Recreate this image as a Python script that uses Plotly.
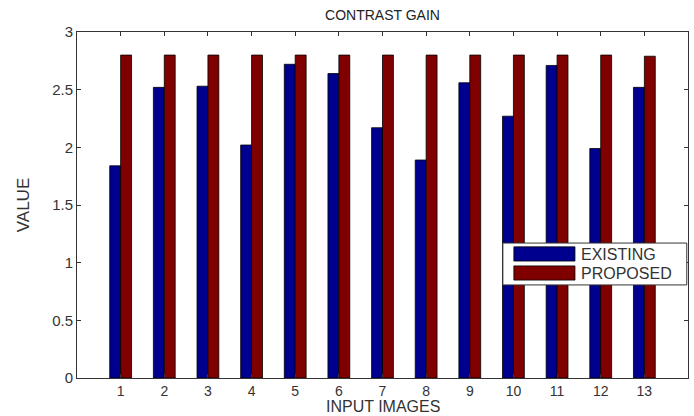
import plotly.graph_objects as go

images = [1, 2, 3, 4, 5, 6, 7, 8, 9, 10, 11, 12, 13]
existing = [1.84, 2.52, 2.53, 2.02, 2.72, 2.64, 2.17, 1.89, 2.56, 2.27, 2.71, 1.99, 2.52]
proposed = [2.80, 2.80, 2.80, 2.80, 2.80, 2.80, 2.80, 2.80, 2.80, 2.80, 2.80, 2.80, 2.79]
series_names = ["EXISTING", "PROPOSED"]
y_ticks = [0, 0.5, 1, 1.5, 2, 2.5, 3]
y_tick_labels = ["0", "0.5", "1", "1.5", "2", "2.5", "3"]
x_title = "INPUT IMAGES"
y_title = "VALUE"
chart_title = "CONTRAST GAIN"

BLUE = "#00008F"
RED = "#800000"
FONT = "Liberation Sans, Arial, sans-serif"
TXT = "#333333"

fig = go.Figure()
fig.add_trace(go.Bar(x=images, y=existing, name=series_names[0],
                     marker=dict(color=BLUE, line=dict(color="#000000", width=0.8))))
fig.add_trace(go.Bar(x=images, y=proposed, name=series_names[1],
                     marker=dict(color=RED, line=dict(color="#000000", width=0.8))))

fig.update_layout(
    width=694, height=416,
    margin=dict(l=77, r=6, t=32, b=38, autoexpand=False),
    paper_bgcolor="white", plot_bgcolor="white",
    barmode="group", bargap=0.5, bargroupgap=0,
    showlegend=False,
    font=dict(family=FONT, size=15, color=TXT),
    title=dict(text=chart_title, x=0.5, xref="paper", xanchor="center",
               y=1 - 15 / 416, yref="container", yanchor="middle",
               font=dict(family=FONT, size=14, color="#222222")),
)

fig.update_xaxes(
    range=[0, 14], tickmode="array", tickvals=images, ticktext=[str(i) for i in images],
    ticks="inside", ticklen=4, tickcolor="#333333",
    showline=True, linecolor="#333333", linewidth=1, mirror="ticks",
    showgrid=False, zeroline=False, automargin=False,
    tickfont=dict(family=FONT, size=14, color=TXT),
)
fig.update_yaxes(
    range=[0, 3], tickmode="array", tickvals=y_ticks, ticktext=y_tick_labels,
    ticks="inside", ticklen=4, tickcolor="#333333",
    showline=True, linecolor="#333333", linewidth=1, mirror="ticks",
    showgrid=False, zeroline=False, automargin=False,
    tickfont=dict(family=FONT, size=15, color=TXT),
    title=dict(text=y_title, standoff=18, font=dict(family=FONT, size=17, color=TXT)),
)

# x-axis title placed just under the tick labels
fig.add_annotation(xref="paper", yref="paper", x=0.5, y=-0.1098, text=x_title,
                   showarrow=False, xanchor="center", yanchor="bottom", borderpad=0,
                   font=dict(family=FONT, size=16, color=TXT))

# legend box (drawn as decoration, matching the MATLAB-style legend)
fig.add_shape(type="rect", xref="paper", yref="paper", x0=0.697, x1=0.998, y0=0.269, y1=0.390,
              line=dict(color="#333333", width=1), fillcolor="white", layer="above")
fig.add_shape(type="rect", xref="paper", yref="paper", x0=0.715, x1=0.815, y0=0.338, y1=0.379,
              line=dict(color="#000000", width=0.8), fillcolor=BLUE, layer="above")
fig.add_shape(type="rect", xref="paper", yref="paper", x0=0.715, x1=0.815, y0=0.283, y1=0.324,
              line=dict(color="#000000", width=0.8), fillcolor=RED, layer="above")
fig.add_annotation(xref="paper", yref="paper", x=0.822, y=0.358, text=series_names[0],
                   showarrow=False, xanchor="left", yanchor="middle",
                   font=dict(family=FONT, size=16, color=TXT))
fig.add_annotation(xref="paper", yref="paper", x=0.822, y=0.303, text=series_names[1],
                   showarrow=False, xanchor="left", yanchor="middle",
                   font=dict(family=FONT, size=16, color=TXT))

fig.write_html("out.html", config={"displayModeBar": False},
               post_script="document.body.style.margin='0';")
